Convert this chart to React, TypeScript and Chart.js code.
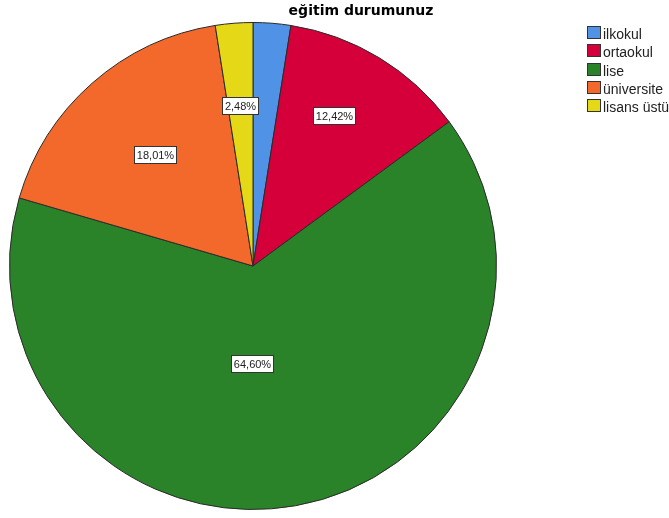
import React, { useEffect, useRef } from "react";
import { Chart, registerables } from "chart.js";

Chart.register(...registerables);

const TITLE = "eğitim durumunuz";
const CATEGORIES = ["ilkokul", "ortaokul", "lise", "üniversite", "lisans üstü"];
const VALUES = [2.49, 12.42, 64.6, 18.01, 2.48];
const LABEL_TEXTS = ["", "12,42%", "64,60%", "18,01%", "2,48%"];

const COLORS = ["#4f92e6", "#d5003a", "#2a8329", "#f3692b", "#e4d817"];
// label placement: fraction of radius and fraction along the arc
const LABEL_RADIUS = [0.6, 0.7, 0.4, 0.61, 0.66];
const LABEL_ARC_FRAC = [0.5, 0.43, 0.545, 0.5, 0.5];

const W = 669;
const H = 518;

const overlayPlugin = {
  id: "overlay",
  afterDraw(chart: any) {
    const ctx = chart.ctx as CanvasRenderingContext2D;
    const meta = chart.getDatasetMeta(0);
    ctx.save();
    // slice labels
    ctx.font = "11px 'Liberation Sans', Arial, sans-serif";
    ctx.textAlign = "center";
    ctx.textBaseline = "middle";
    meta.data.forEach((arc: any, i: number) => {
      const txt = LABEL_TEXTS[i];
      if (!txt) return;
      const p = arc.getProps(["x", "y", "startAngle", "endAngle", "outerRadius"], true);
      const a = p.startAngle + (p.endAngle - p.startAngle) * LABEL_ARC_FRAC[i];
      const r = p.outerRadius * LABEL_RADIUS[i];
      const cx = p.x + Math.cos(a) * r;
      const cy = p.y + Math.sin(a) * r;
      const tw = ctx.measureText(txt).width;
      const bw = Math.round(tw + 5);
      const bh = 17;
      const bx = Math.round(cx - bw / 2) + 0.5;
      const by = Math.round(cy - bh / 2) + 0.5;
      ctx.fillStyle = "#ffffff";
      ctx.fillRect(bx, by, bw, bh);
      ctx.strokeStyle = "#333333";
      ctx.lineWidth = 1;
      ctx.strokeRect(bx, by, bw, bh);
      ctx.fillStyle = "#222222";
      ctx.fillText(txt, bx + bw / 2, by + bh / 2 + 0.5);
    });
    // title
    ctx.font = "bold 14px 'DejaVu Sans', sans-serif";
    ctx.fillStyle = "#000000";
    ctx.textAlign = "center";
    ctx.textBaseline = "alphabetic";
    ctx.fillText(TITLE, 361, 15);
    // legend
    ctx.font = "14px 'Liberation Sans', Arial, sans-serif";
    ctx.textAlign = "left";
    ctx.textBaseline = "alphabetic";
    CATEGORIES.forEach((c, i) => {
      const top = 26 + i * 18.3;
      const y = Math.round(top);
      ctx.fillStyle = COLORS[i];
      ctx.fillRect(587.5, y + 0.5, 13, 12);
      ctx.strokeStyle = "#333333";
      ctx.lineWidth = 1;
      ctx.strokeRect(587.5, y + 0.5, 13, 12);
      ctx.fillStyle = "#222222";
      ctx.fillText(c, 603, y + 13);
    });
    ctx.restore();
  },
};

export default function App() {
  const ref = useRef<HTMLCanvasElement | null>(null);
  useEffect(() => {
    document.body.style.margin = "0";
    const canvas = ref.current!;
    const chart = new Chart(canvas, {
      type: "pie",
      data: {
        labels: CATEGORIES,
        datasets: [
          {
            data: VALUES,
            backgroundColor: COLORS,
            borderColor: "#2a2a2a",
            borderWidth: 1,
          },
        ],
      },
      options: {
        responsive: false,
        animation: false,
        layout: { padding: { left: 9, right: 172, top: 22, bottom: 8 } },
        plugins: {
          legend: { display: false },
          title: { display: false },
          tooltip: { enabled: false },
        },
      },
      plugins: [overlayPlugin],
    });
    return () => chart.destroy();
  }, []);
  return (
    <div style={{ position: "absolute", left: 0, top: 0, width: W, height: H, background: "#fff" }}>
      <canvas ref={ref} width={W} height={H} style={{ width: W, height: H }} />
    </div>
  );
}
